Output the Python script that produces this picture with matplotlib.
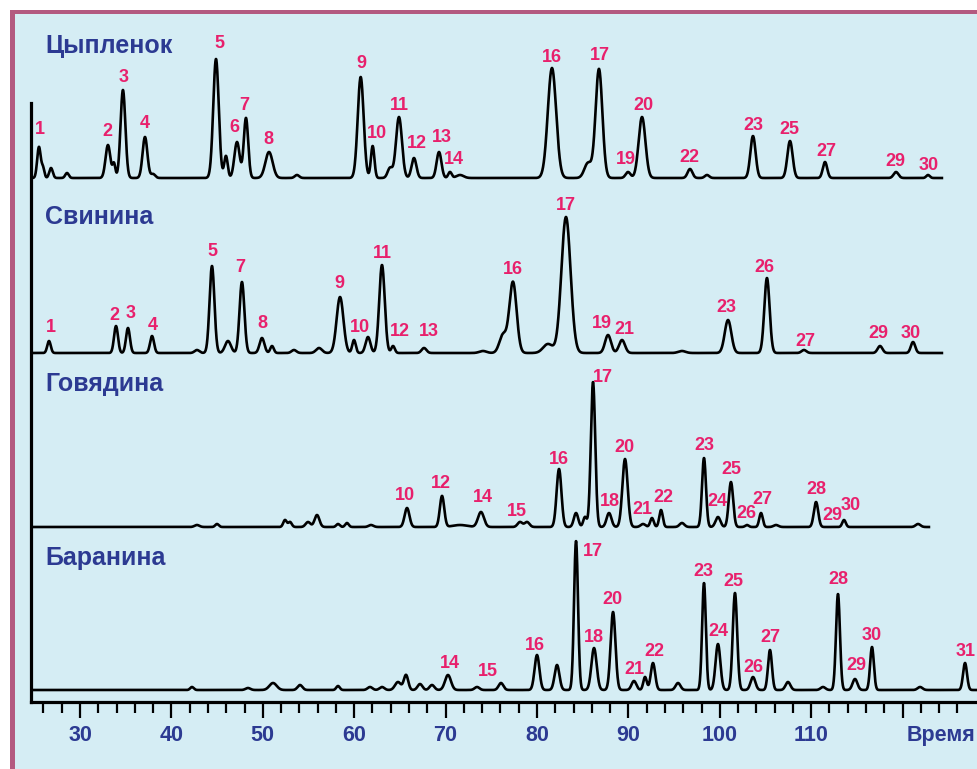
import numpy as np
import matplotlib
matplotlib.use("Agg")
import matplotlib.pyplot as plt
from matplotlib.patches import Rectangle

# ---------------- data (retention time, peak height, peak width) ----------------
samples = ["Цыпленок", "Свинина", "Говядина", "Баранина"]

chicken_t = [25.51, 25.95, 26.83, 28.58, 33.06, 33.72, 34.70, 37.11, 37.99, 44.88,
             45.97, 47.18, 48.16, 50.68, 53.74, 60.71, 62.02, 63.92, 64.90, 66.54,
             69.28, 70.48, 71.58, 81.64, 85.58, 86.78, 89.96, 91.49, 96.74, 98.60,
             103.63, 107.68, 111.51, 119.28, 122.78]
chicken_h = [31, 10, 10, 5, 33, 14, 88, 41, 4, 119,
             22, 36, 60, 26, 3, 101, 32, 10, 61, 20,
             26, 6, 3, 110, 15, 109, 6, 61, 9, 3,
             42, 37, 16, 6, 3]
chicken_w = [0.16, 0.13, 0.16, 0.16, 0.22, 0.13, 0.22, 0.22, 0.2, 0.25,
             0.16, 0.24, 0.2, 0.33, 0.2, 0.27, 0.16, 0.22, 0.27, 0.22,
             0.22, 0.16, 0.33, 0.38, 0.33, 0.31, 0.22, 0.31, 0.22, 0.2,
             0.24, 0.24, 0.2, 0.22, 0.16]

pork_t = [26.61, 33.94, 35.25, 37.88, 42.80, 44.44, 46.19, 47.72, 49.91, 51.01,
          53.41, 56.15, 58.45, 59.98, 61.51, 63.04, 64.25, 67.64, 74.09, 76.28,
          77.37, 81.20, 83.17, 87.77, 89.30, 95.86, 100.90, 105.16, 109.21, 117.53,
          121.14]
pork_h = [12, 27, 25, 17, 3, 87, 12, 71, 15, 7,
          3, 5, 56, 13, 16, 88, 7, 5, 2, 18,
          71, 9, 136, 18, 13, 2, 33, 75, 3, 7,
          11]
pork_w = [0.16, 0.18, 0.18, 0.18, 0.22, 0.22, 0.27, 0.22, 0.22, 0.16,
          0.22, 0.27, 0.31, 0.16, 0.22, 0.25, 0.16, 0.22, 0.33, 0.33,
          0.33, 0.44, 0.42, 0.27, 0.27, 0.33, 0.3, 0.24, 0.22, 0.22,
          0.2]

beef_t = [42.80, 44.99, 52.43, 52.98, 54.95, 55.93, 58.23, 59.21, 61.84, 65.78,
          69.61, 71.58, 73.87, 78.14, 78.91, 82.41, 84.27, 85.25, 86.13, 87.88,
          89.63, 91.60, 92.58, 93.57, 95.86, 98.27, 99.80, 101.22, 102.97, 104.51,
          106.15, 110.53, 113.59, 121.69]
beef_h = [2, 3, 7, 5, 5, 12, 3, 4, 2, 19,
          31, 2, 15, 5, 5, 58, 14, 10, 145, 14,
          68, 3, 9, 17, 4, 69, 10, 45, 2, 14,
          2, 25, 7, 3]
beef_w = [0.22, 0.16, 0.16, 0.16, 0.22, 0.22, 0.16, 0.16, 0.22, 0.22,
          0.2, 0.66, 0.27, 0.22, 0.22, 0.22, 0.2, 0.16, 0.2, 0.22,
          0.24, 0.22, 0.16, 0.16, 0.22, 0.18, 0.22, 0.2, 0.16, 0.16,
          0.22, 0.2, 0.16, 0.22]

lamb_t = [42.25, 48.38, 51.12, 54.07, 58.23, 61.73, 63.04, 64.79, 65.67, 67.20,
          68.51, 70.26, 73.44, 76.06, 80.00, 82.19, 84.27, 86.24, 88.32, 90.61,
          91.82, 92.69, 95.43, 98.27, 99.80, 101.66, 103.63, 105.49, 107.46, 111.29,
          112.93, 114.79, 116.65, 121.91, 126.83]
lamb_h = [3, 2, 7, 5, 4, 3, 3, 8, 15, 6,
          5, 15, 3, 7, 35, 25, 149, 42, 78, 9,
          13, 27, 7, 107, 46, 97, 13, 40, 8, 3,
          96, 11, 43, 3, 27]
lamb_w = [0.16, 0.22, 0.33, 0.22, 0.16, 0.22, 0.22, 0.27, 0.2, 0.22,
          0.22, 0.27, 0.22, 0.22, 0.22, 0.22, 0.18, 0.24, 0.22, 0.22,
          0.16, 0.2, 0.22, 0.17, 0.22, 0.2, 0.22, 0.18, 0.22, 0.22,
          0.18, 0.22, 0.17, 0.22, 0.18]

trace_end = [124.31, 124.31, 122.89, 128.14]

# peak numbers (label text, time, height above baseline)
chicken_lab = ["1", "2", "3", "4", "5", "6", "7", "8", "9", "10", "11", "12", "13", "14",
               "16", "17", "19", "20", "22", "23", "25", "27", "29", "30"]
chicken_lt = [25.62, 32.95, 34.81, 37.11, 45.21, 46.85, 47.94, 50.57, 60.74, 62.49, 64.90,
              66.87, 69.61, 70.92, 81.64, 86.89, 89.74, 91.60, 96.63, 103.63, 107.57,
              111.62, 119.17, 122.89]
chicken_ly = [48, 47, 100, 54, 135, 50, 72, 38, 115, 45, 72, 34, 41, 19, 121, 122, 19, 72,
              20, 53, 49, 27, 16, 13]

pork_lab = ["1", "2", "3", "4", "5", "7", "8", "9", "10", "11", "12", "13", "16", "17",
            "19", "21", "23", "26", "27", "29", "30"]
pork_lt = [26.83, 33.72, 35.58, 37.99, 44.44, 47.51, 49.91, 58.34, 60.63, 63.04, 65.01,
           68.18, 77.37, 83.17, 87.11, 89.52, 100.68, 104.84, 109.32, 117.31, 120.92]
pork_ly = [26, 38, 39, 28, 101, 86, 29, 69, 26, 99, 21, 21, 83, 148, 29, 23, 45, 85, 12,
           19, 20]

beef_lab = ["10", "12", "14", "15", "16", "17", "18", "20", "21", "22", "23", "24", "25",
            "26", "27", "28", "29", "30"]
beef_lt = [65.56, 69.50, 74.09, 77.81, 82.41, 87.22, 87.99, 89.52, 91.49, 93.79, 98.27,
           99.70, 101.22, 102.86, 104.62, 110.53, 112.28, 114.36]
beef_ly = [32, 44, 29, 16, 68, 149, 25, 79, 18, 30, 81, 25, 57, 13, 28, 37, 11, 22]

lamb_lab = ["14", "15", "16", "17", "18", "20", "21", "22", "23", "24", "25", "26", "27",
            "28", "29", "30", "31"]
lamb_lt = [70.48, 74.64, 79.78, 86.13, 86.24, 88.21, 90.61, 92.80, 98.16, 99.80, 101.44,
           103.63, 105.49, 112.93, 114.90, 116.65, 126.94]
lamb_ly = [27, 18, 45, 139, 52, 90, 20, 39, 119, 58, 108, 23, 52, 110, 24, 55, 39]

major_ticks = [30, 40, 50, 60, 70, 80, 90, 100, 110, 120]
major_labels = ["30", "40", "50", "60", "70", "80", "90", "100", "110", ""]
minor_ticks = list(range(26, 128, 2))
x_title = "Время"

# ---------------- styling / layout ----------------
W, H = 977, 769
BG = "#d5edf4"
FRAME = "#b35a80"
PINK = "#e8206c"
BLUE = "#2c3a92"
FONT = "Liberation Sans"
WIDTH_SCALE = 1.2

fig = plt.figure(figsize=(W / 100, H / 100), dpi=100)
fig.patch.set_facecolor("white")
fig.add_artist(Rectangle((10 / W, 0), 1 - 10 / W, 1 - 10 / H, transform=fig.transFigure,
                         facecolor=FRAME, edgecolor="none", zorder=0))
fig.add_artist(Rectangle((15 / W, 0), 1, 1 - 14 / H, transform=fig.transFigure,
                         facecolor=BG, edgecolor="none", zorder=0))

ax_left, ax_bottom_px, ax_top_px = 31, 702, 14
ax = fig.add_axes([ax_left / W, (H - ax_bottom_px) / H, (W - ax_left) / W,
                   (ax_bottom_px - ax_top_px) / H])
ax.set_facecolor("none")
ax.set_xlim(24.64, 128.14)
ax.set_ylim(0, ax_bottom_px - ax_top_px)

for s in ["top", "right"]:
    ax.spines[s].set_visible(False)
ax.spines["left"].set_bounds(0, 599)
for s in ["left", "bottom"]:
    ax.spines[s].set_linewidth(2.3)
    ax.spines[s].set_color("black")
ax.set_yticks([])

ax.set_xticks(major_ticks)
ax.set_xticklabels(major_labels)
ax.set_xticks(minor_ticks, minor=True)
ax.tick_params(axis="x", which="major", length=11.5, width=1.6, pad=5,
               labelsize=15.5, labelcolor=BLUE)
ax.tick_params(axis="x", which="minor", length=8, width=1.6)
for lbl in ax.get_xticklabels():
    lbl.set_fontweight("bold")
    lbl.set_fontfamily(FONT)
ax.text(124.2, -34, x_title, ha="center", va="center", fontsize=15.5, fontweight="bold",
        color=BLUE, family=FONT, clip_on=False)

baselines = [524, 349, 175, 12]
title_y = [656, 485, 318, 144]
peaks = [(chicken_t, chicken_h, chicken_w), (pork_t, pork_h, pork_w),
         (beef_t, beef_h, beef_w), (lamb_t, lamb_h, lamb_w)]
labels = [(chicken_lab, chicken_lt, chicken_ly), (pork_lab, pork_lt, pork_ly),
          (beef_lab, beef_lt, beef_ly), (lamb_lab, lamb_lt, lamb_ly)]

for i, name in enumerate(samples):
    tt, hh, ww = peaks[i]
    t = np.arange(24.70, trace_end[i], 0.02)
    sig = np.zeros_like(t)
    for c, h, w in zip(tt, hh, ww):
        sig += h * np.exp(-0.5 * ((t - c) / (w * WIDTH_SCALE)) ** 2)
    ax.plot(t, baselines[i] + sig, color="black", lw=1.9, solid_joinstyle="round",
            clip_on=False, zorder=3)
    for txt, lt, ly in zip(*labels[i]):
        ax.text(lt, baselines[i] + ly, txt, ha="center", va="center", fontsize=13,
                fontweight="bold", color=PINK, family=FONT, zorder=4)
    ax.text(26.17, title_y[i], name, ha="left", va="center", fontsize=18,
            fontweight="bold", color=BLUE, family=FONT)

fig.savefig("out.png", dpi=100, facecolor=fig.get_facecolor())
